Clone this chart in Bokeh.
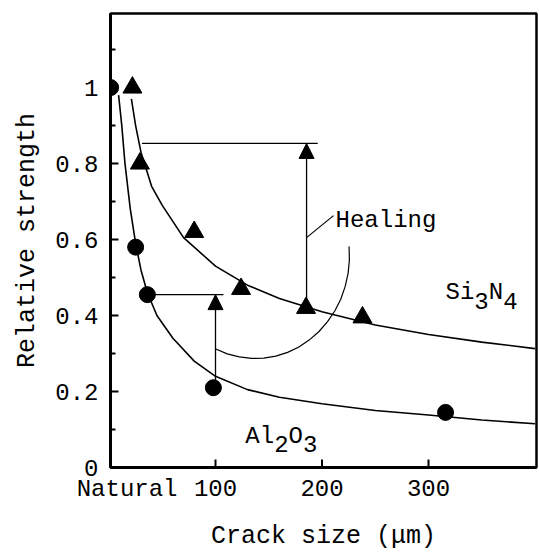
from bokeh.plotting import figure
from bokeh.models import Range1d, FixedTicker, Label, Arrow, NormalHead
from bokeh.embed import file_html
from bokeh.resources import INLINE

FONT = "Liberation Mono"

# ---- data ----
# Al2O3 measured points (circles)
al_x = [1.5, 25, 36, 98, 316]
al_y = [1.0, 0.58, 0.455, 0.21, 0.145]
# Si3N4 measured points (triangles)
si_x = [22, 29, 80, 124, 185, 238]
si_y = [1.0, 0.80, 0.62, 0.47, 0.42, 0.395]

# fitted curves
al_fit_x = [9, 12, 15, 20, 25, 30, 36, 45, 60, 80, 100, 130, 160, 200, 250, 300, 350, 400]
al_fit_y = [0.98, 0.90, 0.80, 0.68, 0.59, 0.52, 0.46, 0.40, 0.34, 0.28, 0.24, 0.205,
            0.185, 0.168, 0.15, 0.138, 0.125, 0.115]
si_fit_x = [21, 25, 30, 40, 50, 70, 100, 130, 160, 200, 250, 300, 350, 400]
si_fit_y = [0.97, 0.90, 0.83, 0.74, 0.69, 0.605, 0.53, 0.48, 0.445, 0.41, 0.375, 0.35,
            0.33, 0.313]

# healing arrows: x position, from strength, to strength, guide line start/end
si_heal = dict(x=185.5, y0=0.435, y1=0.853, gx0=31, gx1=196)
al_heal = dict(x=100, y0=0.225, y1=0.455, gx0=43, gx1=107.5)

# "Healing" bracket arc and leader
arc_x = [225.4, 225.7, 224.5, 221.7, 217.6, 212.0, 205.2, 197.2, 188.2, 178.3, 167.7,
         156.6, 145.3, 133.7, 122.3, 111.0, 100.3]
arc_y = [0.582, 0.546, 0.511, 0.476, 0.443, 0.412, 0.384, 0.358, 0.336, 0.317, 0.303,
         0.293, 0.288, 0.287, 0.291, 0.299, 0.312]
leader_x = [185.5, 210.8]
leader_y = [0.605, 0.663]

natural_x = 17
x_ticks = [100, 200, 300]
x_labels = {natural_x: "Natural", 100: "100", 200: "200", 300: "300"}
y_ticks = [0, 0.2, 0.4, 0.6, 0.8, 1.0]
y_minor = [0.1, 0.3, 0.5, 0.7, 0.9, 1.1]

p = figure(width=539, height=554, x_range=Range1d(1.4, 401.4), y_range=Range1d(0, 1.195),
           output_backend="svg", toolbar_location=None,
           min_border_left=110, min_border_right=3, min_border_top=13, min_border_bottom=87)
p.background_fill_color = "white"
p.border_fill_color = "white"
p.xgrid.visible = False
p.ygrid.visible = False
p.outline_line_color = "black"
p.outline_line_width = 2.5

for ax in (p.xaxis[0], p.yaxis[0]):
    ax.axis_line_width = 3
    ax.axis_line_color = "black"
    ax.major_tick_out = 0
    ax.major_tick_in = 8
    ax.major_tick_line_width = 2
    ax.major_tick_line_color = "black"
    ax.minor_tick_out = 0
    ax.minor_tick_in = 5
    ax.minor_tick_line_width = 2
    ax.minor_tick_line_color = "black"
    ax.major_label_text_font = FONT
    ax.major_label_text_font_size = "24px"
    ax.major_label_text_color = "black"
    ax.axis_label_text_font = FONT
    ax.axis_label_text_font_size = "25px"
    ax.axis_label_text_font_style = "normal"
    ax.axis_label_text_color = "black"

# x axis: labels include "Natural" (no tick mark there); tick marks drawn for 100/200/300
p.xaxis.ticker = FixedTicker(ticks=[natural_x] + x_ticks)
p.xaxis.major_label_overrides = x_labels
p.xaxis.major_tick_in = 0
p.xaxis.major_label_standoff = 8
p.xaxis.axis_label = "Crack size (μm)"
p.xaxis.axis_label_standoff = 16
tick_len = 8 / 380.0
p.segment(x0=x_ticks, y0=[0] * len(x_ticks), x1=x_ticks, y1=[tick_len] * len(x_ticks),
          line_color="black", line_width=2)

p.yaxis.ticker = FixedTicker(ticks=y_ticks, minor_ticks=y_minor)
p.yaxis.major_label_overrides = {0: "0", 1: "1"}
p.yaxis.major_label_standoff = 12
p.yaxis.axis_label = "Relative strength"
p.yaxis.axis_label_standoff = 10

# curves
p.line(al_fit_x, al_fit_y, line_color="black", line_width=1.6)
p.line(si_fit_x, si_fit_y, line_color="black", line_width=1.6)

# healing guides and arrows
for h in (si_heal, al_heal):
    p.line([h["gx0"], h["gx1"]], [h["y1"], h["y1"]], line_color="black", line_width=1.3)
    p.add_layout(Arrow(end=NormalHead(size=15, fill_color="black", line_color="black"),
                       x_start=h["x"], y_start=h["y0"], x_end=h["x"], y_end=h["y1"],
                       line_color="black", line_width=1.3))

p.line(arc_x, arc_y, line_color="black", line_width=1.2)
p.line(leader_x, leader_y, line_color="black", line_width=1.2)

# markers
p.scatter(al_x, al_y, marker="circle", size=16, fill_color="black", line_color="black")
p.scatter(si_x, si_y, marker="triangle", size=19, fill_color="black", line_color="black")

def lab(x, y, text, xo=0, yo=0, size="24px", align="left", base="alphabetic"):
    p.add_layout(Label(x=x, y=y, x_offset=xo, y_offset=yo, text=text, text_font=FONT,
                       text_font_size=size, text_align=align, text_baseline=base,
                       text_color="black"))

lab(212.7, 0.65, "Healing", base="middle")

# Si3N4 label
si_lx, si_ly = 316, 0.46
lab(si_lx, si_ly, "Si")
lab(si_lx, si_ly, "3", xo=28.8, yo=-8)
lab(si_lx, si_ly, "N", xo=43.2)
lab(si_lx, si_ly, "4", xo=57.6, yo=-8)

# Al2O3 label
al_lx, al_ly = 128, 0.082
lab(al_lx, al_ly, "Al")
lab(al_lx, al_ly, "2", xo=28.8, yo=-8)
lab(al_lx, al_ly, "O", xo=43.2)
lab(al_lx, al_ly, "3", xo=57.6, yo=-8)

open("out.html", "w").write(file_html(p, INLINE))
